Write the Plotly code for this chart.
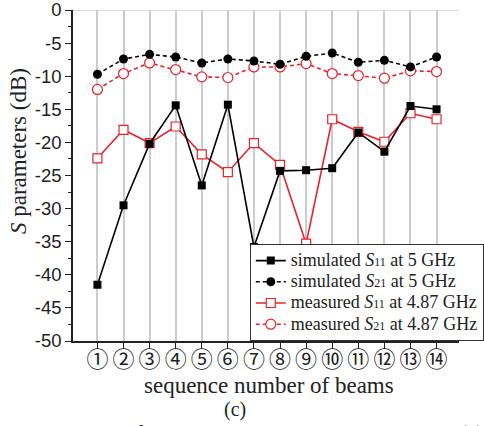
import plotly.graph_objects as go

beams = list(range(1, 15))
beam_labels = ["①", "②", "③", "④", "⑤", "⑥", "⑦", "⑧", "⑨", "⑩", "⑪", "⑫", "⑬", "⑭"]
sim_s11 = [-41.5, -29.5, -20.2, -14.4, -26.5, -14.3, -35.8, -24.3, -24.2, -23.9, -18.5, -21.4, -14.5, -15.0]
sim_s21 = [-9.7, -7.4, -6.7, -7.1, -8.0, -7.4, -7.7, -8.2, -7.0, -6.5, -7.9, -7.6, -8.6, -7.1]
meas_s11 = [-22.4, -18.1, -20.1, -17.6, -21.8, -24.5, -20.1, -23.4, -35.3, -16.5, -18.4, -19.9, -15.6, -16.5]
meas_s21 = [-12.0, -9.6, -8.0, -9.0, -10.1, -10.2, -8.6, -8.6, -8.1, -9.6, -9.9, -10.3, -9.2, -9.3]
y_ticks = [0, -5, -10, -15, -20, -25, -30, -35, -40, -45, -50]
y_tick_text = ["0", "-5", "-10", "-15", "-20", "-25", "-30", "-35", "-40", "-45", "-50"]

RED = "#e8222b"
SERIF = "Liberation Serif, Times New Roman, serif"
SANS = "Liberation Sans, Arial, sans-serif"

def leg(label, s, rest):
    return ('<span style="font-size:18px">' + label + ' <i>S</i>'
            '<span style="font-size:12px">' + s + '</span> ' + rest + '</span>')

fig = go.Figure()
fig.add_trace(go.Scatter(
    x=beams, y=meas_s11, mode="lines+markers", legendrank=3,
    name=leg("measured", "11", "at 4.87 GHz"),
    line=dict(color=RED, width=1.6),
    marker=dict(symbol="square", size=9, color="white", line=dict(color=RED, width=1.2)),
))
fig.add_trace(go.Scatter(
    x=beams, y=meas_s21, mode="lines+markers", legendrank=4,
    name=leg("measured", "21", "at 4.87 GHz"),
    line=dict(color=RED, width=1.6, dash="4px,3px"),
    marker=dict(symbol="circle", size=10, color="white", line=dict(color=RED, width=1.2)),
))
fig.add_trace(go.Scatter(
    x=beams, y=sim_s11, mode="lines+markers", legendrank=1,
    name=leg("simulated", "11", "at 5 GHz"),
    line=dict(color="black", width=1.6),
    marker=dict(symbol="square", size=8, color="black"),
))
fig.add_trace(go.Scatter(
    x=beams, y=sim_s21, mode="lines+markers", legendrank=2,
    name=leg("simulated", "21", "at 5 GHz"),
    line=dict(color="black", width=1.6, dash="4px,3px"),
    marker=dict(symbol="circle", size=9, color="black"),
))

fig.update_layout(
    width=484, height=426,
    margin=dict(l=73, r=0, t=9.5, b=85),
    paper_bgcolor="white", plot_bgcolor="white",
    showlegend=True,
    legend=dict(
        x=0.458, y=0, xanchor="left", yanchor="bottom",
        bgcolor="white", bordercolor="#333", borderwidth=1,
        font=dict(family=SERIF, size=14, color="#222"),
        itemwidth=30, tracegroupgap=0,
    ),
    xaxis=dict(
        range=[0.064, 14.86], tickvals=beams, ticktext=beam_labels,
        showgrid=True, gridcolor="#cccccc", gridwidth=1.5,
        showline=True, linecolor="#222", linewidth=1.5,
        ticks="outside", ticklen=6, tickwidth=1.2, tickcolor="#222",
        tickfont=dict(family="Noto Sans CJK JP", size=22, color="#222"),
        ticklabelstandoff=-8,
        zeroline=False,
    ),
    yaxis=dict(
        range=[-50, 0], tickvals=y_ticks, ticktext=y_tick_text,
        showgrid=False, zeroline=False,
        showline=True, linecolor="#222", linewidth=1.5,
        ticks="outside", ticklen=6, tickwidth=1.2, tickcolor="#222",
        tickfont=dict(family=SANS, size=18.5, color="#222"),
        ticklabeloverflow="allow",
        minor=dict(tickvals=[-2.5 - 5 * i for i in range(10)], ticks="outside", ticklen=3, tickcolor="#222", tickwidth=1),
    ),
)

fig.add_shape(type="line", xref="paper", yref="y", x0=0, x1=1, y0=0, y1=0,
              line=dict(color="#cccccc", width=1.5))

fig.add_annotation(text="<i>S</i> parameters (dB)", xref="paper", yref="paper",
                   x=(15 - 73) / 411, y=0.5 + (175 - 151) / 331.5, textangle=-90, showarrow=False,
                   xanchor="center", yanchor="middle",
                   font=dict(family=SERIF, size=23, color="#222"))
fig.add_annotation(text="sequence number of beams", xref="paper", yref="paper",
                   x=(282 - 73) / 411, y=(341 - 386) / 331.5, showarrow=False,
                   xanchor="center", yanchor="middle",
                   font=dict(family=SERIF, size=23, color="#222"))
fig.add_annotation(text="(c)", xref="paper", yref="paper",
                   x=(246 - 73) / 411, y=(341 - 410) / 331.5, showarrow=False,
                   xanchor="center", yanchor="middle",
                   font=dict(family=SERIF, size=20, color="#222"))
fig.add_annotation(text="<i>S</i> parameters of the beam-scanning periodic LWA.  (a)  Simulated and",
                   xref="paper", yref="paper",
                   x=-73 / 411, y=(341 - 418) / 331.5, showarrow=False,
                   xanchor="left", yanchor="top",
                   font=dict(family=SERIF, size=22, color="#222"))

fig.write_html("out.html")
